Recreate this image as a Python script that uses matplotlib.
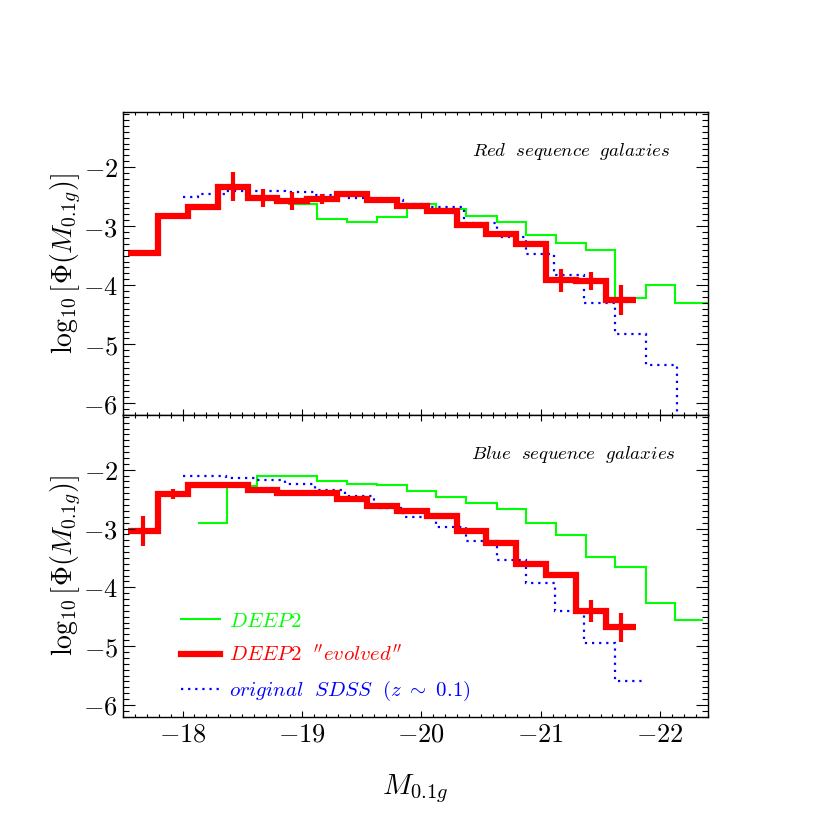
import matplotlib
matplotlib.use('Agg')
import matplotlib.pyplot as plt
from matplotlib.lines import Line2D
from matplotlib.ticker import MultipleLocator, FuncFormatter
import numpy as np

plt.rcParams['mathtext.fontset'] = 'cm'

# DEEP2 "evolved" (red), same bins in both panels
red_edges = [-17.545 - 0.25 * k for k in range(18)]
red_top = [-3.46, -2.83, -2.68, -2.33, -2.52, -2.57, -2.54, -2.45, -2.55,
           -2.65, -2.75, -2.985, -3.13, -3.31, -3.92, -3.93, -4.25]
red_top_err = [0, 0, 0, 0.25, 0.15, 0.15, 0.085, 0.05, 0.03,
               0.03, 0.03, 0.03, 0.04, 0.05, 0.19, 0.16, 0.25]
red_bot = [-3.04, -2.41, -2.255, -2.255, -2.34, -2.39, -2.40, -2.50, -2.61,
           -2.70, -2.79, -3.04, -3.24, -3.61, -3.79, -4.40, -4.68]
red_bot_err = [0.26, 0.085, 0.03, 0.03, 0.02, 0.02, 0.02, 0.02, 0.02,
               0.02, 0.02, 0.02, 0.02, 0.04, 0.05, 0.19, 0.25]

# original SDSS (blue dotted)
blue_top_edges = [-18.00, -18.13, -18.36, -18.61, -18.86, -19.11, -19.36, -19.60,
                  -19.85, -20.08, -20.36, -20.63, -20.88, -21.11, -21.36, -21.62,
                  -21.88, -22.14, -22.40]
blue_top = [-2.50, -2.46, -2.40, -2.40, -2.42, -2.47, -2.52, -2.56, -2.62,
            -2.67, -2.95, -3.18, -3.47, -3.83, -4.31, -4.82, -5.36, -6.60]
blue_bot_edges = [-18.00, -18.13, -18.36, -18.61, -18.86, -19.11, -19.36, -19.60,
                  -19.85, -20.12, -20.37, -20.63, -20.88, -21.12, -21.36, -21.62,
                  -21.88]
blue_bot = [-2.11, -2.11, -2.14, -2.17, -2.25, -2.35, -2.45, -2.65,
            -2.80, -2.98, -3.21, -3.53, -3.93, -4.41, -4.95, -5.59]

# DEEP2 (green)
green_top_edges = [-18.88, -19.13, -19.38, -19.63, -19.88, -20.12, -20.37, -20.63,
                   -20.88, -21.13, -21.38, -21.62, -21.88, -22.12, -22.45]
green_top = [-2.62, -2.87, -2.93, -2.85, -2.62, -2.71, -2.83, -2.93,
             -3.15, -3.28, -3.41, -4.21, -3.99, -4.31]
green_bot_edges = [-18.13, -18.375, -18.62, -18.87, -19.13, -19.38, -19.63, -19.88,
                   -20.12, -20.37, -20.63, -20.88, -21.13, -21.38, -21.62, -21.88,
                   -22.12, -22.36]
green_bot = [-2.90, -2.28, -2.11, -2.11, -2.20, -2.25, -2.26, -2.37, -2.47,
             -2.56, -2.66, -2.90, -3.11, -3.48, -3.66, -4.27, -4.56]

panel_titles = ['Red\\ \\ sequence\\ \\ galaxies', 'Blue\\ \\ sequence\\ \\ galaxies']
y_ticks = [-2, -3, -4, -5, -6]
x_ticks = [-18, -19, -20, -21, -22]

GREEN = '#00ff00'
RED = '#ff0000'
BLUE = '#0000ff'

fig = plt.figure(figsize=(8.3, 8.3), dpi=100)
ax1 = fig.add_axes([0.148, 0.5, 0.705, 0.3647])
ax2 = fig.add_axes([0.148, 0.1365, 0.705, 0.3635])

mathfmt = FuncFormatter(lambda v, pos: r'$%d$' % round(v))

panels = [
    (ax1, red_top, red_top_err, blue_top_edges, blue_top, green_top_edges, green_top),
    (ax2, red_bot, red_bot_err, blue_bot_edges, blue_bot, green_bot_edges, green_bot),
]

for i, (ax, rv, re, be, bv, ge, gv) in enumerate(panels):
    ax.stairs(gv, ge, baseline=None, color=GREEN, lw=1.5)
    ax.stairs(bv, be, baseline=None, color=BLUE, lw=1.6, linestyle=(0, (1, 2.2)))
    ax.stairs(rv, red_edges, baseline=None, color=RED, lw=4.5)
    centers = 0.5 * (np.array(red_edges[:-1]) + np.array(red_edges[1:]))
    err = np.array(re)
    m = err > 0
    ax.errorbar(centers[m], np.array(rv)[m], yerr=err[m], fmt='none',
                ecolor=RED, elinewidth=3, capsize=0)

    ax.set_xlim(-17.5, -22.4)
    ax.set_ylim(-6.2, -1.07)
    ax.set_xticks(x_ticks)
    ax.set_yticks(y_ticks)
    ax.xaxis.set_minor_locator(MultipleLocator(0.1))
    ax.yaxis.set_minor_locator(MultipleLocator(0.1))
    ax.tick_params(which='both', direction='in', top=True, right=True, width=0.8)
    ax.tick_params(axis='y', which='major', length=8.5)
    ax.tick_params(axis='y', which='minor', length=4.3)
    ax.tick_params(axis='x', which='major', length=4.5)
    ax.tick_params(axis='x', which='minor', length=2.3)
    ax.tick_params(labelsize=19)
    ax.yaxis.set_major_formatter(mathfmt)
    ax.xaxis.set_major_formatter(mathfmt)
    for s in ax.spines.values():
        s.set_linewidth(1.0)
    ax.set_ylabel(r'$\log_{10}\left[\Phi(M_{0.1g})\right]$', fontsize=20, labelpad=-1)
    ax.text(0.935 if i == 0 else 0.945, 0.87, r'$' + panel_titles[i] + '$',
            transform=ax.transAxes, ha='right', va='center', fontsize=13.5)

ax1.tick_params(labelbottom=False)
ax2.set_xlabel(r'$M_{0.1g}$', fontsize=21, labelpad=18)

handles = [Line2D([], [], color=GREEN, lw=1.5),
           Line2D([], [], color=RED, lw=4.5),
           Line2D([], [], color=BLUE, lw=1.6, linestyle=(0, (1, 2.2)))]
labels = [r'$DEEP2$', r"$DEEP2\ \ {}''evolved''$", r'$original\ \ SDSS\ \ (z\ \sim\ 0.1)$']
ax2.legend(handles, labels, loc='lower left', bbox_to_anchor=(0.068, -0.018),
           frameon=False, fontsize=15, handlelength=1.85, handletextpad=0.45,
           labelspacing=0.65, labelcolor='linecolor')

fig.savefig('out.png', dpi=100, facecolor='white')
